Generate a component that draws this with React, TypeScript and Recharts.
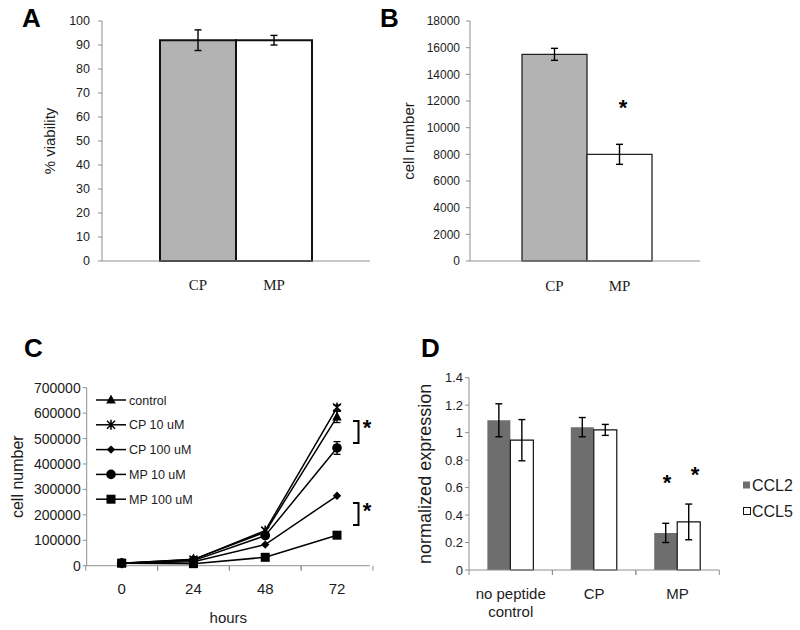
import { BarChart, Bar, Cell, LineChart, Line, XAxis, YAxis, ErrorBar, Legend } from 'recharts';

// panel A / B
const peptides = ['CP', 'MP'];
const peptideFills = ['#b3b3b3', '#ffffff'];
const viability = [92, 92];
const viabilityErr = [4.3, 2];
const viabilityTicks = [0, 10, 20, 30, 40, 50, 60, 70, 80, 90, 100];
const cellCount = [15500, 8000];
const cellCountErr = [450, 750];
const cellCountTicks = [0, 2000, 4000, 6000, 8000, 10000, 12000, 14000, 16000, 18000];

// panel C
const hours = ['0', '24', '48', '72'];
const control = [10000, 25000, 132000, 585000];
const controlErr = [null, null, null, 22000];
const cp10 = [10000, 24000, 138000, 622000];
const cp10Err = [null, null, null, 10000];
const cp100 = [10000, 16000, 83000, 275000];
const mp10 = [10000, 20000, 118000, 463000];
const mp10Err = [null, null, null, 25000];
const mp100 = [10000, 8000, 33000, 120000];
const growthTicks = [0, 100000, 200000, 300000, 400000, 500000, 600000, 700000];

// panel D
const treatments = ['no peptide control', 'CP', 'MP'];
const treatmentLines: Record<string, string[]> = {
  'no peptide control': ['no peptide', 'control'],
  CP: ['CP'],
  MP: ['MP'],
};
const ccl2 = [1.09, 1.04, 0.27];
const ccl2Err = [0.12, 0.07, 0.07];
const ccl5 = [0.945, 1.02, 0.35];
const ccl5Err = [0.15, 0.04, 0.13];
const expressionTicks = [0, 0.2, 0.4, 0.6, 0.8, 1, 1.2, 1.4];

const AXIS = '#8f8f8f';
const INK = '#1c1c1c';
const sans = '"Liberation Sans", Arial, sans-serif';
const serif = '"Liberation Serif", "Times New Roman", serif';

const growthSeries = [
  { key: 'control', name: 'control', shape: 'triangle', err: 'controlErr' },
  { key: 'cp10', name: 'CP 10 uM', shape: 'star', err: 'cp10Err' },
  { key: 'cp100', name: 'CP 100 uM', shape: 'diamond', err: null },
  { key: 'mp10', name: 'MP 10 uM', shape: 'circle', err: 'mp10Err' },
  { key: 'mp100', name: 'MP 100 uM', shape: 'square', err: null },
];

const viabilityData = peptides.map((p, i) => ({ name: p, value: viability[i], err: viabilityErr[i] }));
const countData = peptides.map((p, i) => ({ name: p, value: cellCount[i], err: cellCountErr[i] }));
const growthData = hours.map((h, i) => ({
  hour: h,
  control: control[i],
  controlErr: controlErr[i],
  cp10: cp10[i],
  cp10Err: cp10Err[i],
  cp100: cp100[i],
  mp10: mp10[i],
  mp10Err: mp10Err[i],
  mp100: mp100[i],
}));
const expressionData = treatments.map((t, i) => ({
  name: t,
  ccl2: ccl2[i],
  ccl2Err: ccl2Err[i],
  ccl5: ccl5[i],
  ccl5Err: ccl5Err[i],
}));

const Marker = ({ shape, cx, cy }: { shape: string; cx: number; cy: number }) => {
  if (cx == null || cy == null) return null;
  switch (shape) {
    case 'triangle':
      return <polygon points={`${cx},${cy - 5.5} ${cx - 4.8},${cy + 3.5} ${cx + 4.8},${cy + 3.5}`} fill="#000" />;
    case 'star':
      return (
        <path
          d={`M${cx - 4},${cy - 4}L${cx + 4},${cy + 4}M${cx + 4},${cy - 4}L${cx - 4},${cy + 4}M${cx},${cy - 5}L${cx},${cy + 5}`}
          stroke="#000"
          strokeWidth={1.5}
          fill="none"
        />
      );
    case 'diamond':
      return <polygon points={`${cx},${cy - 4.2} ${cx + 4.2},${cy} ${cx},${cy + 4.2} ${cx - 4.2},${cy}`} fill="#000" />;
    case 'circle':
      return <circle cx={cx} cy={cy} r={4.8} fill="#000" />;
    default:
      return <rect x={cx - 4.5} y={cy - 4.5} width={9} height={9} fill="#000" />;
  }
};

const GrowthLegend = () => (
  <svg width={150} height={125} style={{ display: 'block', fontFamily: sans }}>
    {growthSeries.map((s, i) => {
      const y = 12 + i * 24.8;
      return (
        <g key={s.key}>
          <line x1={0} x2={30} y1={y} y2={y} stroke="#000" strokeWidth={1.5} />
          <Marker shape={s.shape} cx={15} cy={y} />
          <text x={33} y={y} dy="0.36em" fontSize={12.5} fill={INK}>
            {s.name}
          </text>
        </g>
      );
    })}
  </svg>
);

const ExpressionLegend = () => (
  <svg width={70} height={50} style={{ display: 'block', fontFamily: sans }}>
    <rect x={1} y={6.5} width={7} height={7} fill="#6e6e6e" />
    <text x={10} y={10} dy="0.36em" fontSize={16} fill={INK}>CCL2</text>
    <rect x={1.5} y={32.5} width={7} height={7} fill="#fff" stroke="#111" strokeWidth={1} />
    <text x={10} y={36} dy="0.36em" fontSize={16} fill={INK}>CCL5</text>
  </svg>
);

// category tick with Excel-style marks between categories
const makeBandTick = (half: number, margin: number, fontSize: number, lineGap: number) => (props: any) => {
  const { x, y, payload } = props;
  const axisY = y - margin;
  const lines = treatmentLines[payload.value] || [String(payload.value)];
  return (
    <g>
      <line x1={x - half} x2={x - half} y1={axisY} y2={axisY + 5} stroke={AXIS} />
      <line x1={x + half} x2={x + half} y1={axisY} y2={axisY + 5} stroke={AXIS} />
      <text x={x} y={y} textAnchor="middle" fontSize={fontSize} fill={INK}>
        {lines.map((l, i) => (
          <tspan key={l} x={x} dy={i === 0 ? '0.71em' : lineGap}>
            {l}
          </tspan>
        ))}
      </text>
    </g>
  );
};

const hourTick = makeBandTick(35.9, 17.5, 15, 18);
const treatmentTick = makeBandTick(41.7, 18, 15, 18);

const PanelA = () => (
  <BarChart width={400} height={310} data={viabilityData} margin={{ top: 21, right: 30, bottom: 19, left: 0 }} barCategoryGap={0}>
    <XAxis
      dataKey="name"
      height={30}
      padding={{ left: 58, right: 58 }}
      axisLine={{ stroke: AXIS }}
      tickLine={false}
      tickSize={0}
      tickMargin={18}
      tick={{ fontFamily: serif, fontSize: 15, fill: INK }}
    />
    <YAxis
      width={102}
      domain={[0, 100]}
      ticks={viabilityTicks}
      axisLine={{ stroke: AXIS }}
      tickLine={{ stroke: AXIS }}
      tickSize={4}
      tickMargin={8}
      tick={{ fontSize: 12.5, fill: INK }}
      label={{ value: '% viability', angle: -90, position: 'center', dx: -1, fontSize: 15, fill: INK }}
    />
    <Bar dataKey="value" isAnimationActive={false} stroke="#111" strokeWidth={2}>
      {viabilityData.map((d, i) => (
        <Cell key={d.name} fill={peptideFills[i]} />
      ))}
      <ErrorBar dataKey="err" width={3.5} stroke="#000" strokeWidth={1.4} />
    </Bar>
  </BarChart>
);

const PanelB = () => (
  <BarChart width={400} height={310} data={countData} margin={{ top: 21, right: 100, bottom: 19, left: 0 }} barCategoryGap={0}>
    <XAxis
      dataKey="name"
      height={30}
      padding={{ left: 52, right: 48 }}
      axisLine={{ stroke: AXIS }}
      tickLine={false}
      tickSize={0}
      tickMargin={19}
      tick={{ fontFamily: serif, fontSize: 15, fill: INK }}
    />
    <YAxis
      width={70}
      domain={[0, 18000]}
      ticks={cellCountTicks}
      axisLine={{ stroke: AXIS }}
      tickLine={{ stroke: AXIS }}
      tickSize={4}
      tickMargin={6}
      tick={{ fontSize: 12, fill: INK }}
      label={{ value: 'cell number', angle: -90, position: 'center', dx: -26, fontSize: 15, fill: INK }}
    />
    <Bar dataKey="value" isAnimationActive={false} stroke="#222" strokeWidth={1.3}>
      {countData.map((d, i) => (
        <Cell key={d.name} fill={peptideFills[i]} />
      ))}
      <ErrorBar dataKey="err" width={3.5} stroke="#000" strokeWidth={1.4} />
    </Bar>
  </BarChart>
);

const PanelC = () => (
  <LineChart width={400} height={320} data={growthData} margin={{ top: 77.7, right: 30, bottom: 0, left: 0 }}>
    <XAxis
      dataKey="hour"
      height={64.3}
      padding={{ left: 35, right: 33 }}
      axisLine={{ stroke: AXIS }}
      tickLine={false}
      tickSize={0}
      tickMargin={17.5}
      tick={hourTick}
      label={{ value: 'hours', position: 'insideBottom', offset: 7, fontSize: 15, fill: INK }}
    />
    <YAxis
      width={86.7}
      domain={[0, 700000]}
      ticks={growthTicks}
      axisLine={{ stroke: AXIS }}
      tickLine={{ stroke: AXIS }}
      tickSize={4}
      tickMargin={2}
      tick={{ fontSize: 14, fill: INK }}
      label={{ value: 'cell number', angle: -90, position: 'center', dx: -26, fontSize: 16, fill: INK }}
    />
    <Legend layout="vertical" align="center" verticalAlign="middle" content={GrowthLegend} wrapperStyle={{ left: 96, top: 78 }} />
    {growthSeries.map((s) => (
      <Line
        key={s.key}
        dataKey={s.key}
        name={s.name}
        type="linear"
        stroke="#000"
        strokeWidth={1.5}
        isAnimationActive={false}
        activeDot={false}
        dot={(p: any) => <Marker key={`${s.key}-${p.index}`} shape={s.shape} cx={p.cx} cy={p.cy} />}
      >
        {s.err && <ErrorBar dataKey={s.err} direction="y" width={3.5} stroke="#000" strokeWidth={1.3} />}
      </Line>
    ))}
  </LineChart>
);

const PanelD = () => (
  <BarChart
    width={400}
    height={320}
    data={expressionData}
    margin={{ top: 67.7, right: 80.7, bottom: 0, left: 0 }}
    barCategoryGap="22%"
    barGap={0}
  >
    <XAxis
      dataKey="name"
      height={60}
      axisLine={{ stroke: AXIS }}
      tickLine={false}
      tickSize={0}
      tickMargin={18}
      tick={treatmentTick}
      interval={0}
    />
    <YAxis
      width={69}
      domain={[0, 1.4]}
      ticks={expressionTicks}
      axisLine={{ stroke: AXIS }}
      tickLine={{ stroke: AXIS }}
      tickSize={4}
      tickMargin={2}
      tick={{ fontSize: 13, fill: INK }}
      label={{ value: 'normalized expression', angle: -90, position: 'center', dx: -10, fontSize: 18, fill: INK }}
    />
    <Legend layout="vertical" align="center" verticalAlign="middle" content={ExpressionLegend} wrapperStyle={{ left: 342, top: 165 }} />
    <Bar dataKey="ccl2" name="CCL2" fill="#6e6e6e" isAnimationActive={false}>
      <ErrorBar dataKey="ccl2Err" width={3.5} stroke="#000" strokeWidth={1.4} />
    </Bar>
    <Bar dataKey="ccl5" name="CCL5" fill="#fff" stroke="#111" strokeWidth={1.2} isAnimationActive={false}>
      <ErrorBar dataKey="ccl5Err" width={3.5} stroke="#000" strokeWidth={1.4} />
    </Bar>
  </BarChart>
);

const Annotations = () => (
  <svg width={800} height={630} style={{ position: 'absolute', left: 0, top: 0, pointerEvents: 'none', fontFamily: sans }}>
    <g fontSize={26} fontWeight="bold" fill="#000">
      <text x={22} y={27}>A</text>
      <text x={380} y={27}>B</text>
      <text x={24} y={357}>C</text>
      <text x={421} y={357}>D</text>
    </g>
    <g fontSize={22} fontWeight="bold" fill="#000" textAnchor="middle">
      <text x={623} y={115}>*</text>
      <text x={367} y={435}>*</text>
      <text x={367} y={518}>*</text>
      <text x={667} y={490}>*</text>
      <text x={695} y={482}>*</text>
    </g>
    <g stroke="#000" strokeWidth={2} fill="none">
      <polyline points="353,421 358.5,421 358.5,443 353,443" />
      <polyline points="353,503 358.5,503 358.5,525 353,525" />
    </g>
  </svg>
);

const App = () => (
  <div style={{ position: 'absolute', left: 0, top: 0, width: 800, height: 630, background: '#fff', fontFamily: sans }}>
    <div style={{ position: 'absolute', left: 0, top: 0 }}>
      <PanelA />
    </div>
    <div style={{ position: 'absolute', left: 400, top: 0 }}>
      <PanelB />
    </div>
    <div style={{ position: 'absolute', left: 0, top: 310 }}>
      <PanelC />
    </div>
    <div style={{ position: 'absolute', left: 400, top: 310 }}>
      <PanelD />
    </div>
    <Annotations />
  </div>
);

export default App;
